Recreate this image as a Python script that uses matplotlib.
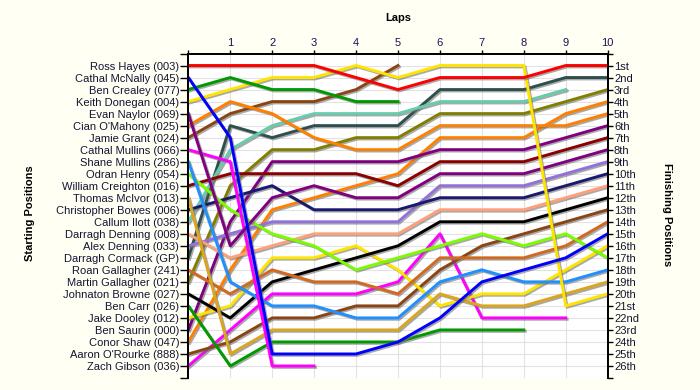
import matplotlib
matplotlib.use("Agg")
import matplotlib.pyplot as plt
import matplotlib.patheffects as pe

plt.rcParams["font.family"] = ["Liberation Sans", "DejaVu Sans"]

drivers = ["Ross Hayes (003)", "Cathal McNally (045)", "Ben Crealey (077)",
           "Keith Donegan (004)", "Evan Naylor (069)", "Cian O'Mahony (025)",
           "Jamie Grant (024)", "Cathal Mullins (066)", "Shane Mullins (286)",
           "Odran Henry (054)", "William Creighton (016)", "Thomas McIvor (013)",
           "Christopher Bowes (006)", "Callum Ilott (038)", "Darragh Denning (008)",
           "Alex Denning (033)", "Darragh Cormack (GP)", "Roan Gallagher (241)",
           "Martin Gallagher (021)", "Johnaton Browne (027)", "Ben Carr (026)",
           "Jake Dooley (012)", "Ben Saurin (000)", "Conor Shaw (047)",
           "Aaron O'Rourke (888)", "Zach Gibson (036)"]

colors = ["#ff0000", "#0000ff", "#009900", "#ffe400", "#800080", "#ff8000",
          "#8b4513", "#ff00ff", "#1e90ff", "#7cfc00", "#8b0000", "#daa520",
          "#191970", "#66cdaa", "#ffa07a", "#9370db", "#2f4f4f", "#d2691e",
          "#808000", "#000000", "#009900", "#ffe400", "#800080", "#ff8000",
          "#8b4513", "#ff00ff"]

# position after each lap (lap 0 = grid); shorter lists = retired
positions = [
    [1, 1, 1, 1, 2, 3, 2, 2, 2, 1, 1],
    [2, 7, 25, 25, 25, 24, 22, 19, 18, 17, 15],
    [3, 2, 3, 3, 4, 4],
    [4, 3, 2, 2, 1, 2, 1, 1, 1, 21, 20],
    [5, 16, 12, 11, 12, 12, 10, 10, 10, 9, 8],
    [6, 4, 5, 7, 8, 8, 6, 6, 6, 6, 5],
    [7, 5, 4, 4, 3, 1],
    [8, 9, 26, 26],
    [9, 19, 21, 21, 22, 22, 19, 18, 19, 19, 18],
    [10, 13, 15, 16, 18, 17, 16, 15, 16, 15, 17],
    [11, 10, 10, 10, 10, 11, 9, 9, 9, 8, 7],
    [12, 25, 23, 23, 23, 23, 20, 21, 21, 20, 19],
    [13, 12, 11, 13, 13, 13, 12, 12, 12, 11, 10],
    [14, 8, 6, 5, 5, 5, 4, 4, 4, 3],
    [15, 17, 16, 15, 15, 15, 13, 13, 13, 12, 11],
    [16, 15, 14, 14, 14, 14, 11, 11, 11, 10, 9],
    [17, 6, 7, 6, 6, 6, 3, 3, 3, 2, 2],
    [18, 20, 18, 19, 19, 20, 17, 17, 17, 16, 14],
    [19, 11, 8, 8, 7, 7, 5, 5, 5, 4, 3],
    [20, 22, 19, 18, 17, 16, 14, 14, 14, 13, 12],
    [21, 26, 24, 24, 24, 24, 23, 23, 23],
    [22, 21, 17, 17, 16, 18, 21, 20, 20, 18, 16],
    [23, 14, 9, 9, 9, 9, 8, 8, 8, 7, 6],
    [24, 18, 13, 12, 11, 10, 7, 7, 7, 5, 4],
    [25, 24, 22, 22, 21, 21, 18, 16, 15, 14, 13],
    [26, 23, 20, 20, 20, 19, 15, 22, 22, 22],
]

lap_labels = ["", "1", "2", "3", "4", "5", "6", "7", "8", "9", "10"]
finish_labels = ["1st", "2nd", "3rd"] + [f"{i}th" for i in range(4, 21)] + \
                ["21st", "22nd", "23rd", "24th", "25th", "26th"]

bg = "#fffff4"
fig = plt.figure(figsize=(7, 3.9), dpi=100, facecolor=bg)
ax = fig.add_axes([188.3 / 700, 1 - 378 / 390, (607.7 - 188.3) / 700, (378 - 53.5) / 390])
ax.set_facecolor("white")
n = len(drivers)
ax.set_xlim(0, 10)
ax.set_ylim(n + 1, 0)

for r in range(1, n + 1):
    ax.axhline(r, color="#e2e2e2", lw=0.8, zorder=1)
for l in range(1, 10):
    ax.axvline(l, color="#e2e2e2", lw=0.8, zorder=1)

shadow = [pe.SimpleLineShadow(offset=(1.0, -1.0), shadow_color="#707070", alpha=0.6), pe.Normal()]
for i, (pos, c) in enumerate(zip(positions, colors)):
    ax.plot(range(len(pos)), pos, color=c, lw=2.1, zorder=100 - i,
            path_effects=shadow)

ax.xaxis.tick_top()
ax.set_xticks(range(11))
ax.set_xticklabels(lap_labels, fontsize=8, color="#2a0a50")
ax.tick_params(axis="x", direction="out", length=3, width=1, pad=1)

ax.set_yticks(range(n + 2))
ax.set_yticklabels([""] + drivers + [""], fontsize=8, color="#141432")
ax.tick_params(axis="y", direction="out", length=5.5, width=1, pad=1)

ax2 = ax.twinx()
ax2.set_ylim(n + 1, 0)
ax2.set_yticks(range(n + 2))
ax2.set_yticklabels([""] + finish_labels + [""], fontsize=8, color="#141432")
ax2.tick_params(axis="y", direction="out", length=3.5, width=1, pad=1)

for a in (ax, ax2):
    a.spines["bottom"].set_visible(False)
    for s in ("top", "left", "right"):
        a.spines[s].set_linewidth(1.3)
        a.spines[s].set_color("black")

fig.text(398 / 700, 1 - 18 / 390, "Laps", ha="center", va="center",
         fontsize=8, fontweight="bold")
fig.text(30 / 700, 1 - 213 / 390, "Starting Positions", ha="center", va="center",
         rotation=90, fontsize=8, fontweight="bold")
fig.text(667 / 700, 1 - 215 / 390, "Finishing Positions", ha="center", va="center",
         rotation=270, fontsize=8, fontweight="bold")

fig.savefig("out.png", dpi=100, facecolor=bg)
